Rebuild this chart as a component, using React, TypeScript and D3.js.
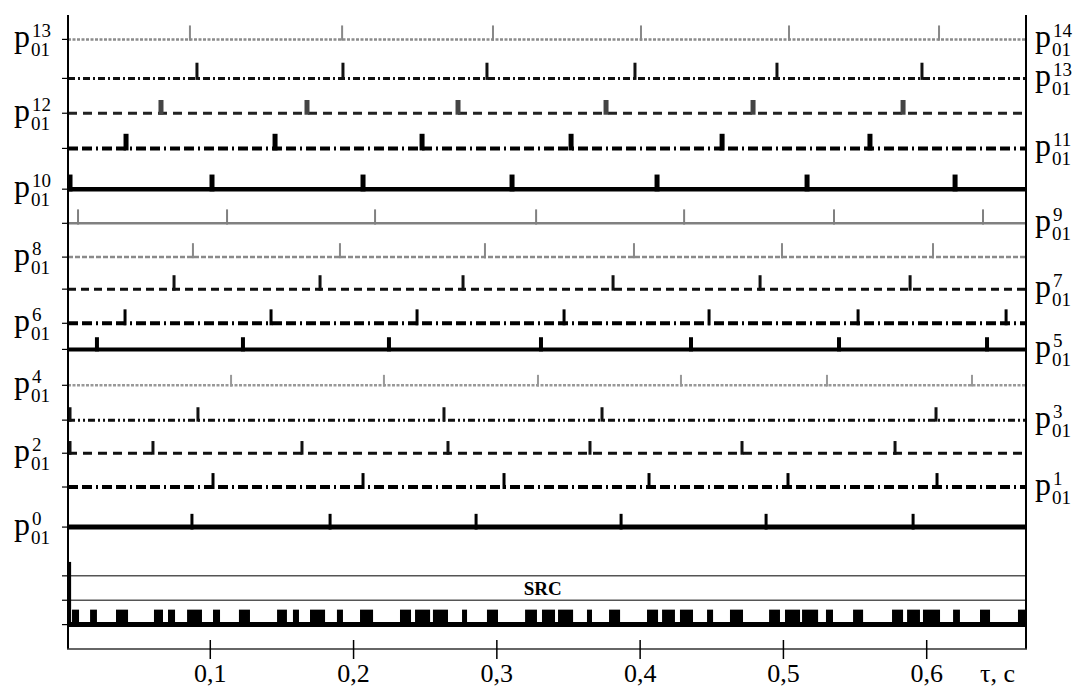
import React from "react";
import * as d3 from "d3";

const W = 1083;
const H = 690;

// channel names, top to bottom
const channels = ["p14", "p13", "p12", "p11", "p10", "p9", "p8", "p7", "p6", "p5", "p4", "p3", "p2", "p1", "p0"];
// stack offset of each channel's baseline (offset units)
const levels = [14.0, 12.88, 11.88, 10.87, 9.7, 8.72, 7.75, 6.83, 5.85, 5.1, 4.07, 3.07, 2.12, 1.15, 0];
// pulse amplitude per channel (offset units)
const amps = [0.4, 0.45, 0.38, 0.42, 0.42, 0.4, 0.4, 0.4, 0.4, 0.35, 0.3, 0.37, 0.35, 0.4, 0.38];

// pulse times, s
const p14Pulses = [0.0858, 0.192, 0.2973, 0.4006, 0.5039, 0.6086];
const p13Pulses = [0.0907, 0.1926, 0.2931, 0.3964, 0.4955, 0.5967];
const p12Pulses = [0.0656, 0.1675, 0.2729, 0.3762, 0.4788, 0.5835];
const p11Pulses = [0.0412, 0.1452, 0.2478, 0.3518, 0.4572, 0.5604];
const p10Pulses = [0.0021, 0.1012, 0.2066, 0.3106, 0.4118, 0.5165, 0.6198];
const p9Pulses = [0.0077, 0.1117, 0.215, 0.3274, 0.4307, 0.5353, 0.6393];
const p8Pulses = [0.0879, 0.1905, 0.2917, 0.3957, 0.499, 0.6044];
const p7Pulses = [0.0747, 0.1766, 0.2764, 0.3811, 0.4837, 0.5884];
const p6Pulses = [0.0405, 0.1424, 0.2443, 0.3469, 0.4481, 0.5521, 0.6554];
const p5Pulses = [0.0209, 0.1228, 0.2247, 0.3308, 0.4355, 0.5388, 0.6421];
const p4Pulses = [0.1145, 0.2212, 0.3287, 0.4285, 0.5304, 0.6316];
const p3Pulses = [0.0021, 0.0914, 0.2631, 0.3734, 0.6065];
const p2Pulses = [0.0021, 0.06, 0.164, 0.2659, 0.365, 0.4711, 0.5779];
const p1Pulses = [0.1019, 0.2066, 0.305, 0.4062, 0.5032, 0.6072];
const p0Pulses = [0.0872, 0.1836, 0.2855, 0.3867, 0.4879, 0.5905];

const pulses = [p14Pulses, p13Pulses, p12Pulses, p11Pulses, p10Pulses, p9Pulses, p8Pulses, p7Pulses,
  p6Pulses, p5Pulses, p4Pulses, p3Pulses, p2Pulses, p1Pulses, p0Pulses];

// SRC pulse train: [start, end], s
const srcPulses = [
  [0.0035, 0.0084], [0.0161, 0.0209], [0.0342, 0.0426], [0.0607, 0.067], [0.0705, 0.0754],
  [0.0838, 0.0942], [0.1019, 0.1068], [0.12, 0.1277], [0.1466, 0.1535], [0.1577, 0.1619],
  [0.1696, 0.1801], [0.1884, 0.1926], [0.2045, 0.2136], [0.2324, 0.2401], [0.2429, 0.2534],
  [0.2554, 0.2659], [0.2757, 0.2792], [0.2931, 0.3008], [0.3197, 0.328], [0.3315, 0.3406],
  [0.3427, 0.3532], [0.3629, 0.3664], [0.3783, 0.386], [0.4048, 0.4125], [0.4153, 0.4243],
  [0.4278, 0.4369], [0.4467, 0.4509], [0.4627, 0.4718], [0.49, 0.4976], [0.5011, 0.5116],
  [0.513, 0.5242], [0.5297, 0.5346], [0.5486, 0.5556], [0.5758, 0.5835], [0.5863, 0.5953],
  [0.5974, 0.6093], [0.6184, 0.6232], [0.6372, 0.6442], [0.6637, 0.6686],
];
const srcLevel = -2.8;
const srcAmp = 0.43;
const srcGuides = [-1.4, -2.1];
const srcLeadSpike = 0.002;
const srcLeadAmp = 1.8;

const tickValues = [0.1, 0.2, 0.3, 0.4, 0.5, 0.6];
const tickLabels = ["0,1", "0,2", "0,3", "0,4", "0,5", "0,6"];
const axisTitle = "τ, c";

// labels: channel row, superscript text
const leftTags = [["p14", "13"], ["p12", "12"], ["p10", "10"], ["p8", "8"], ["p6", "6"], ["p4", "4"], ["p2", "2"], ["p0", "0"]];
const rightTags = [["p14", "14"], ["p13", "13"], ["p11", "11"], ["p9", "9"], ["p7", "7"], ["p5", "5"], ["p3", "3"], ["p1", "1"]];

// line styles per channel
const styles = [
  { c: "#8c8c8c", w: 2.5, d: "3,1.5", sw: 2, sc: "#888" },
  { c: "#111", w: 3, d: "7,3,2,3", sw: 3, sc: "#111" },
  { c: "#222", w: 3, d: "9,6", sw: 5, sc: "#444" },
  { c: "#000", w: 4, d: "10,4,10,4,2,4", sw: 5, sc: "#000" },
  { c: "#000", w: 4.5, d: null, sw: 5, sc: "#000" },
  { c: "#808080", w: 2.5, d: null, sw: 2, sc: "#808080" },
  { c: "#8a8a8a", w: 2.5, d: "5,2", sw: 2, sc: "#888" },
  { c: "#111", w: 3, d: "8,5", sw: 3, sc: "#111" },
  { c: "#000", w: 4, d: "10,4,10,4,2,4", sw: 3, sc: "#000" },
  { c: "#000", w: 4, d: null, sw: 4, sc: "#000" },
  { c: "#999", w: 2.5, d: "3,1.5", sw: 2, sc: "#999" },
  { c: "#111", w: 3, d: "7,3,2,3,2,3", sw: 3, sc: "#111" },
  { c: "#111", w: 3, d: "9,6", sw: 3, sc: "#111" },
  { c: "#000", w: 4, d: "10,4,10,4,2,4", sw: 3, sc: "#000" },
  { c: "#000", w: 5, d: null, sw: 3, sc: "#000" },
];

const serif = "'Liberation Serif', 'Times New Roman', serif";

const Label = ({ x, y, sup }: { x: number; y: number; sup: string }) => (
  <g fontFamily={serif} fill="#000">
    <text x={x} y={y + 8} fontSize={32}>p</text>
    <text x={x + 18} y={y - 2} fontSize={19}>{sup}</text>
    <text x={x + 17} y={y + 17} fontSize={19}>01</text>
  </g>
);

export default function App() {
  const x = d3.scaleLinear().domain([0, 0.67]).range([67, 1027]);
  const y = d3.scaleLinear().domain([-3.5, 14.7]).range([649, 15]);
  const rowY = (name: string) => y(levels[channels.indexOf(name)]);
  const x0 = x(0) + 1;
  const x1 = x(0.67) - 1;

  return (
    <svg width={W} height={H} style={{ position: "absolute", left: 0, top: 0, background: "#fff" }}>
      <rect width={W} height={H} fill="#fff" />

      {/* channel traces */}
      {channels.map((name, i) => {
        const s = styles[i];
        const base = y(levels[i]);
        const top = y(levels[i] + amps[i]);
        return (
          <g key={name}>
            <line x1={x0} x2={x1} y1={base} y2={base} stroke={s.c} strokeWidth={s.w}
              strokeDasharray={s.d || undefined} />
            <line x1={x0 - 6} x2={x0} y1={base} y2={base} stroke="#000" strokeWidth={1.2} />
            {pulses[i].map((t, j) => (
              <rect key={j} x={x(t) - s.sw / 2} y={top} width={s.sw} height={base - top + s.w / 2} fill={s.sc} />
            ))}
          </g>
        );
      })}

      {/* SRC panel */}
      {srcGuides.map((g) => (
        <g key={g}>
          <line x1={x0} x2={x1} y1={y(g)} y2={y(g)} stroke="#555" strokeWidth={1.5} />
          <line x1={x0 - 6} x2={x0} y1={y(g)} y2={y(g)} stroke="#000" strokeWidth={1.2} />
        </g>
      ))}
      <line x1={x0} x2={x1} y1={y(srcLevel)} y2={y(srcLevel)} stroke="#000" strokeWidth={5} />
      <line x1={x0 - 6} x2={x0} y1={y(srcLevel)} y2={y(srcLevel)} stroke="#000" strokeWidth={1.2} />
      {srcPulses.map(([a, b], j) => (
        <rect key={j} x={x(a)} y={y(srcLevel + srcAmp)} width={x(b) - x(a)}
          height={y(srcLevel) - y(srcLevel + srcAmp)} fill="#000" />
      ))}
      <line x1={x(srcLeadSpike)} x2={x(srcLeadSpike)} y1={y(srcLevel)} y2={y(srcLevel + srcLeadAmp)}
        stroke="#000" strokeWidth={2.5} />
      <text x={x(0.332)} y={y(-1.75) + 7} textAnchor="middle" fontFamily={serif} fontWeight="bold" fontSize={19}>SRC</text>

      {/* frame */}
      <line x1={x(0) + 1} x2={x(0) + 1} y1={y(14.7)} y2={y(-3.5)} stroke="#000" strokeWidth={2} />
      <line x1={x(0.67) - 1} x2={x(0.67) - 1} y1={y(14.7)} y2={y(-3.5)} stroke="#000" strokeWidth={2} />
      <line x1={x(0)} x2={x(0.67)} y1={y(-3.5)} y2={y(-3.5)} stroke="#333" strokeWidth={1.5} />
      {tickValues.map((t, i) => (
        <g key={t}>
          <line x1={x(t)} x2={x(t)} y1={y(-3.5) - 9} y2={y(-3.5) + 10} stroke="#000" strokeWidth={1.5} />
          <text x={x(t)} y={682} textAnchor="middle" fontFamily={serif} fontSize={26}>{tickLabels[i]}</text>
        </g>
      ))}
      <text x={980} y={682} fontFamily={serif} fontSize={26}>{axisTitle}</text>

      {/* channel labels */}
      {leftTags.map(([name, sup]) => (
        <Label key={"l" + name} x={14} y={rowY(name)} sup={sup} />
      ))}
      {rightTags.map(([name, sup]) => (
        <Label key={"r" + name} x={1035} y={rowY(name)} sup={sup} />
      ))}
    </svg>
  );
}
